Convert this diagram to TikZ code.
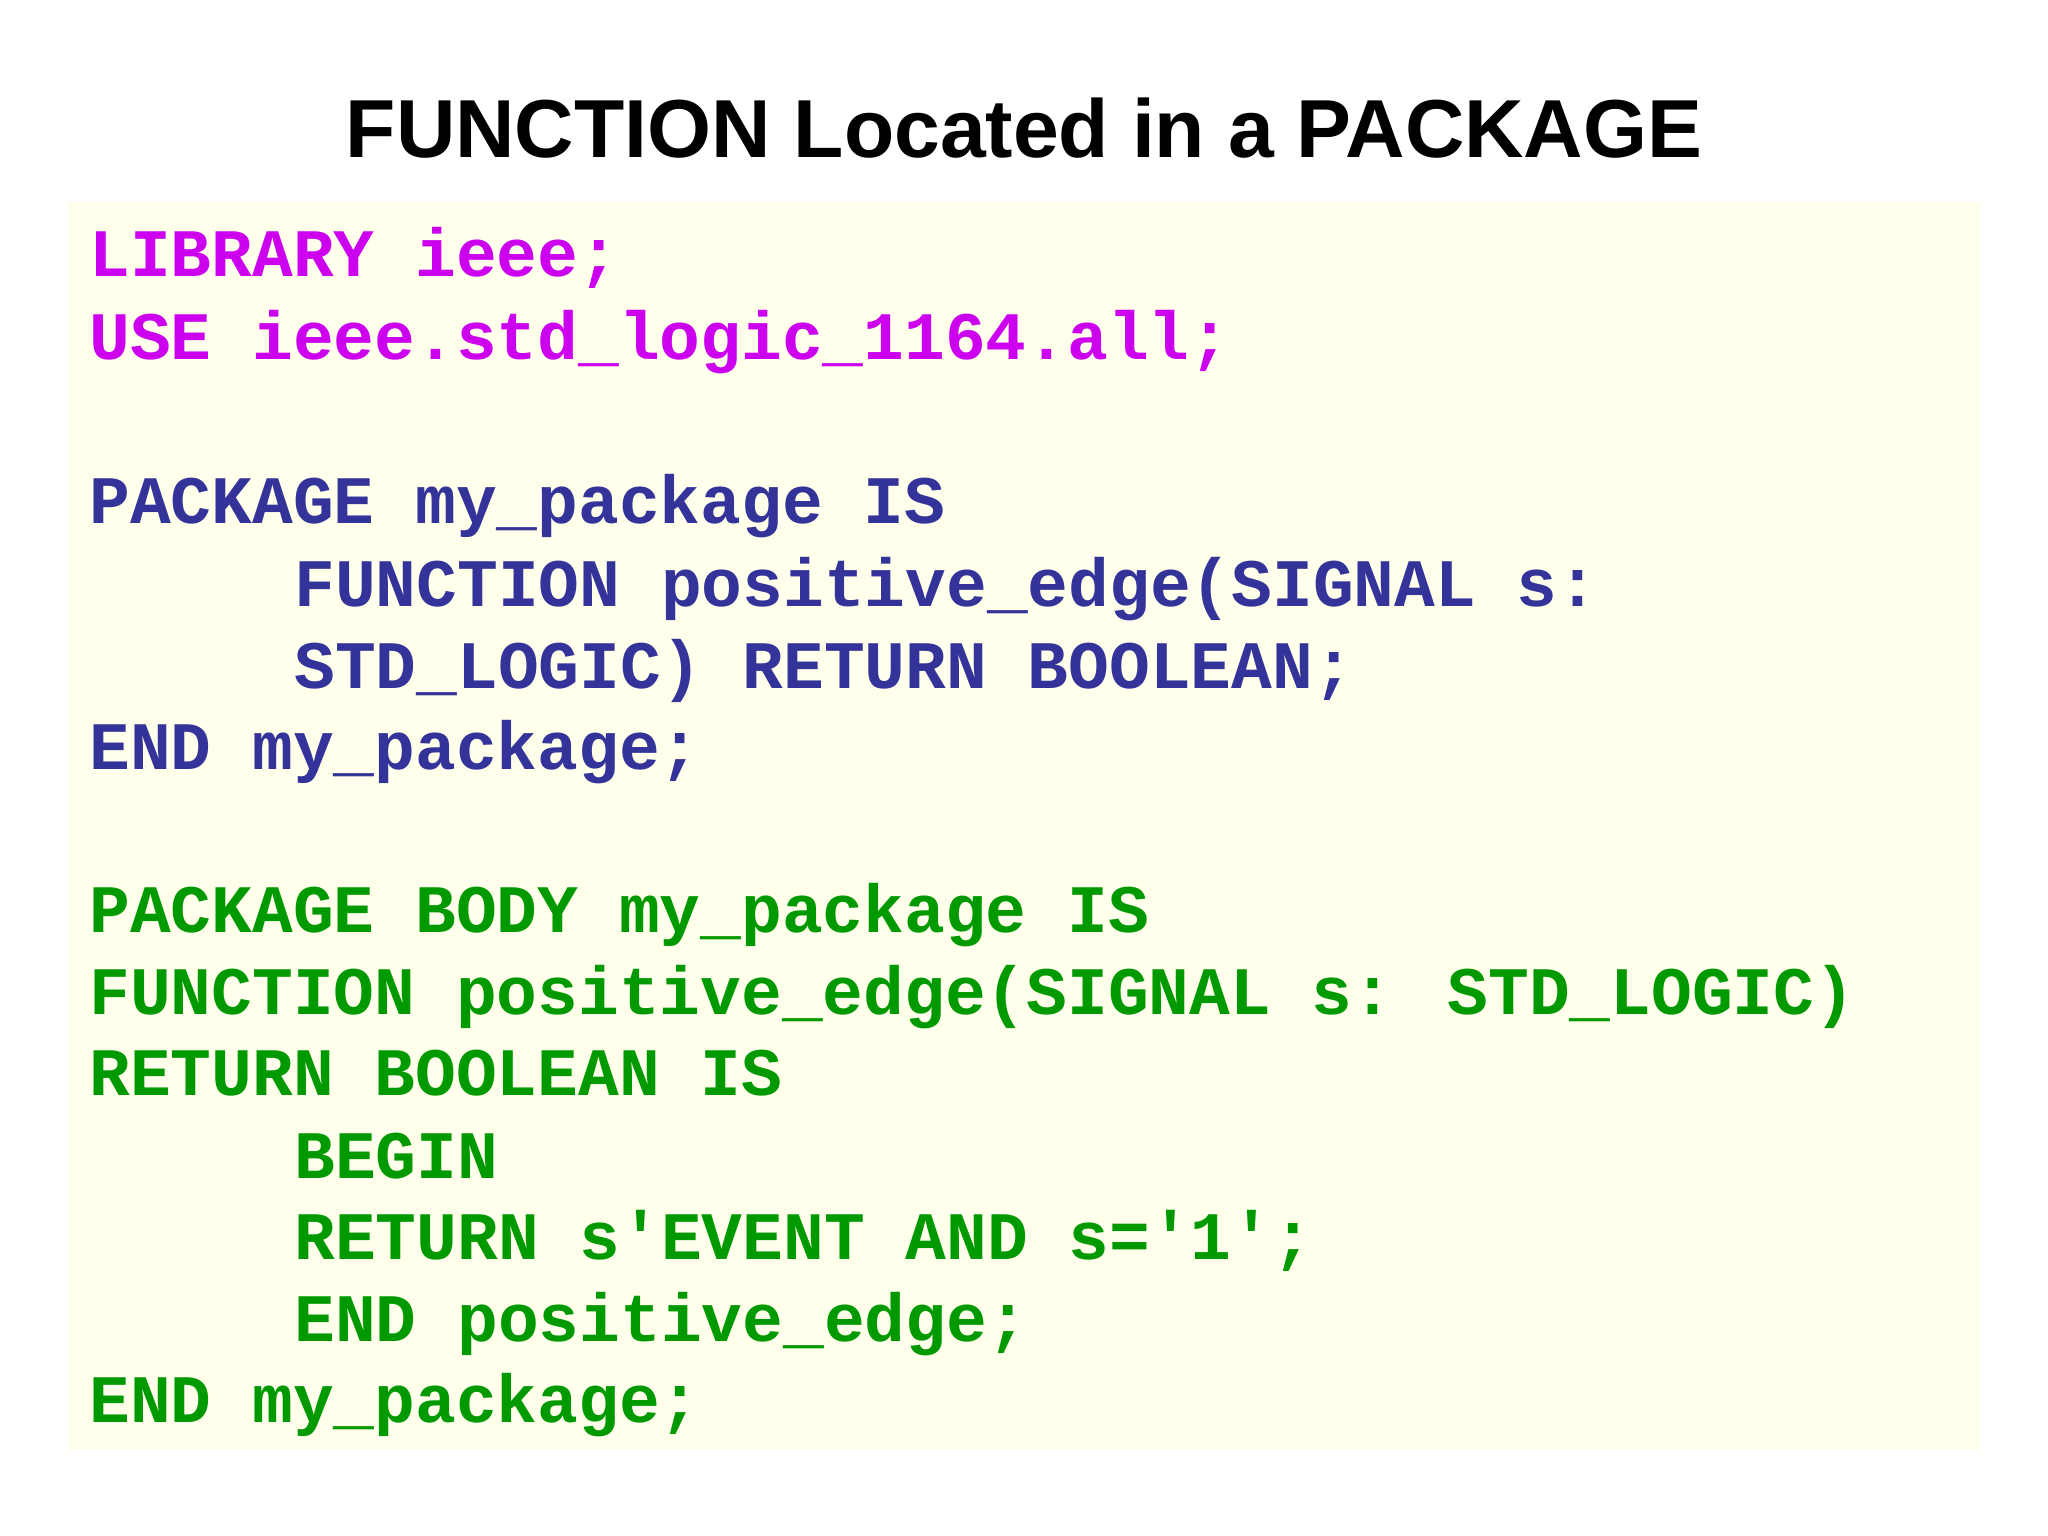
\documentclass[tikz,border=0pt]{standalone}
\usepackage{fontspec}
\setmainfont{Liberation Sans}
\newfontfamily\codefont{Liberation Mono}
\definecolor{bgy}{HTML}{FFFFEC}
\definecolor{cmag}{HTML}{CC00EE}
\definecolor{cnav}{HTML}{333399}
\definecolor{cgrn}{HTML}{009900}
\begin{document}
\begin{tikzpicture}[x=0.5pt,y=-0.5pt,
  codeline/.style={anchor=base west,inner sep=0pt,font=\codefont\fontsize{26pt}{30pt}\selectfont\bfseries},
  mg/.style={codeline,text=cmag},
  nv/.style={codeline,text=cnav},
  gr/.style={codeline,text=cgrn}]
\useasboundingbox (0,0) rectangle (1568,1176);
\fill[white] (0,0) rectangle (1568,1176);
\fill[bgy] (52,155) rectangle (1516,1110);
\node[font=\fontsize{31.5pt}{36pt}\selectfont\bfseries,inner sep=0pt] (title) at (784,98) {FUNCTION Located in a PACKAGE};
\node[mg] (l1) at (68,212) {LIBRARY ieee;};
\node[mg] (l2) at (68,275) {USE ieee.std\_logic\_1164.all;};
\node[nv] (l4) at (68,401) {PACKAGE my\_package IS};
\node[nv] (l5) at (225,464) {FUNCTION positive\_edge(SIGNAL s:};
\node[nv] (l6) at (225,527) {STD\_LOGIC) RETURN BOOLEAN;};
\node[nv] (l7) at (68,589) {END my\_package;};
\node[gr] (l9) at (68,714) {PACKAGE BODY my\_package IS};
\node[gr] (l10) at (68,777) {FUNCTION positive\_edge(SIGNAL s: STD\_LOGIC)};
\node[gr] (l11) at (68,839) {RETURN BOOLEAN IS};
\node[gr] (l12) at (225,902) {BEGIN};
\node[gr] (l13) at (225,964) {RETURN s'EVENT AND s='1';};
\node[gr] (l14) at (225,1027) {END positive\_edge;};
\node[gr] (l15) at (68,1089) {END my\_package;};
\end{tikzpicture}
\end{document}
